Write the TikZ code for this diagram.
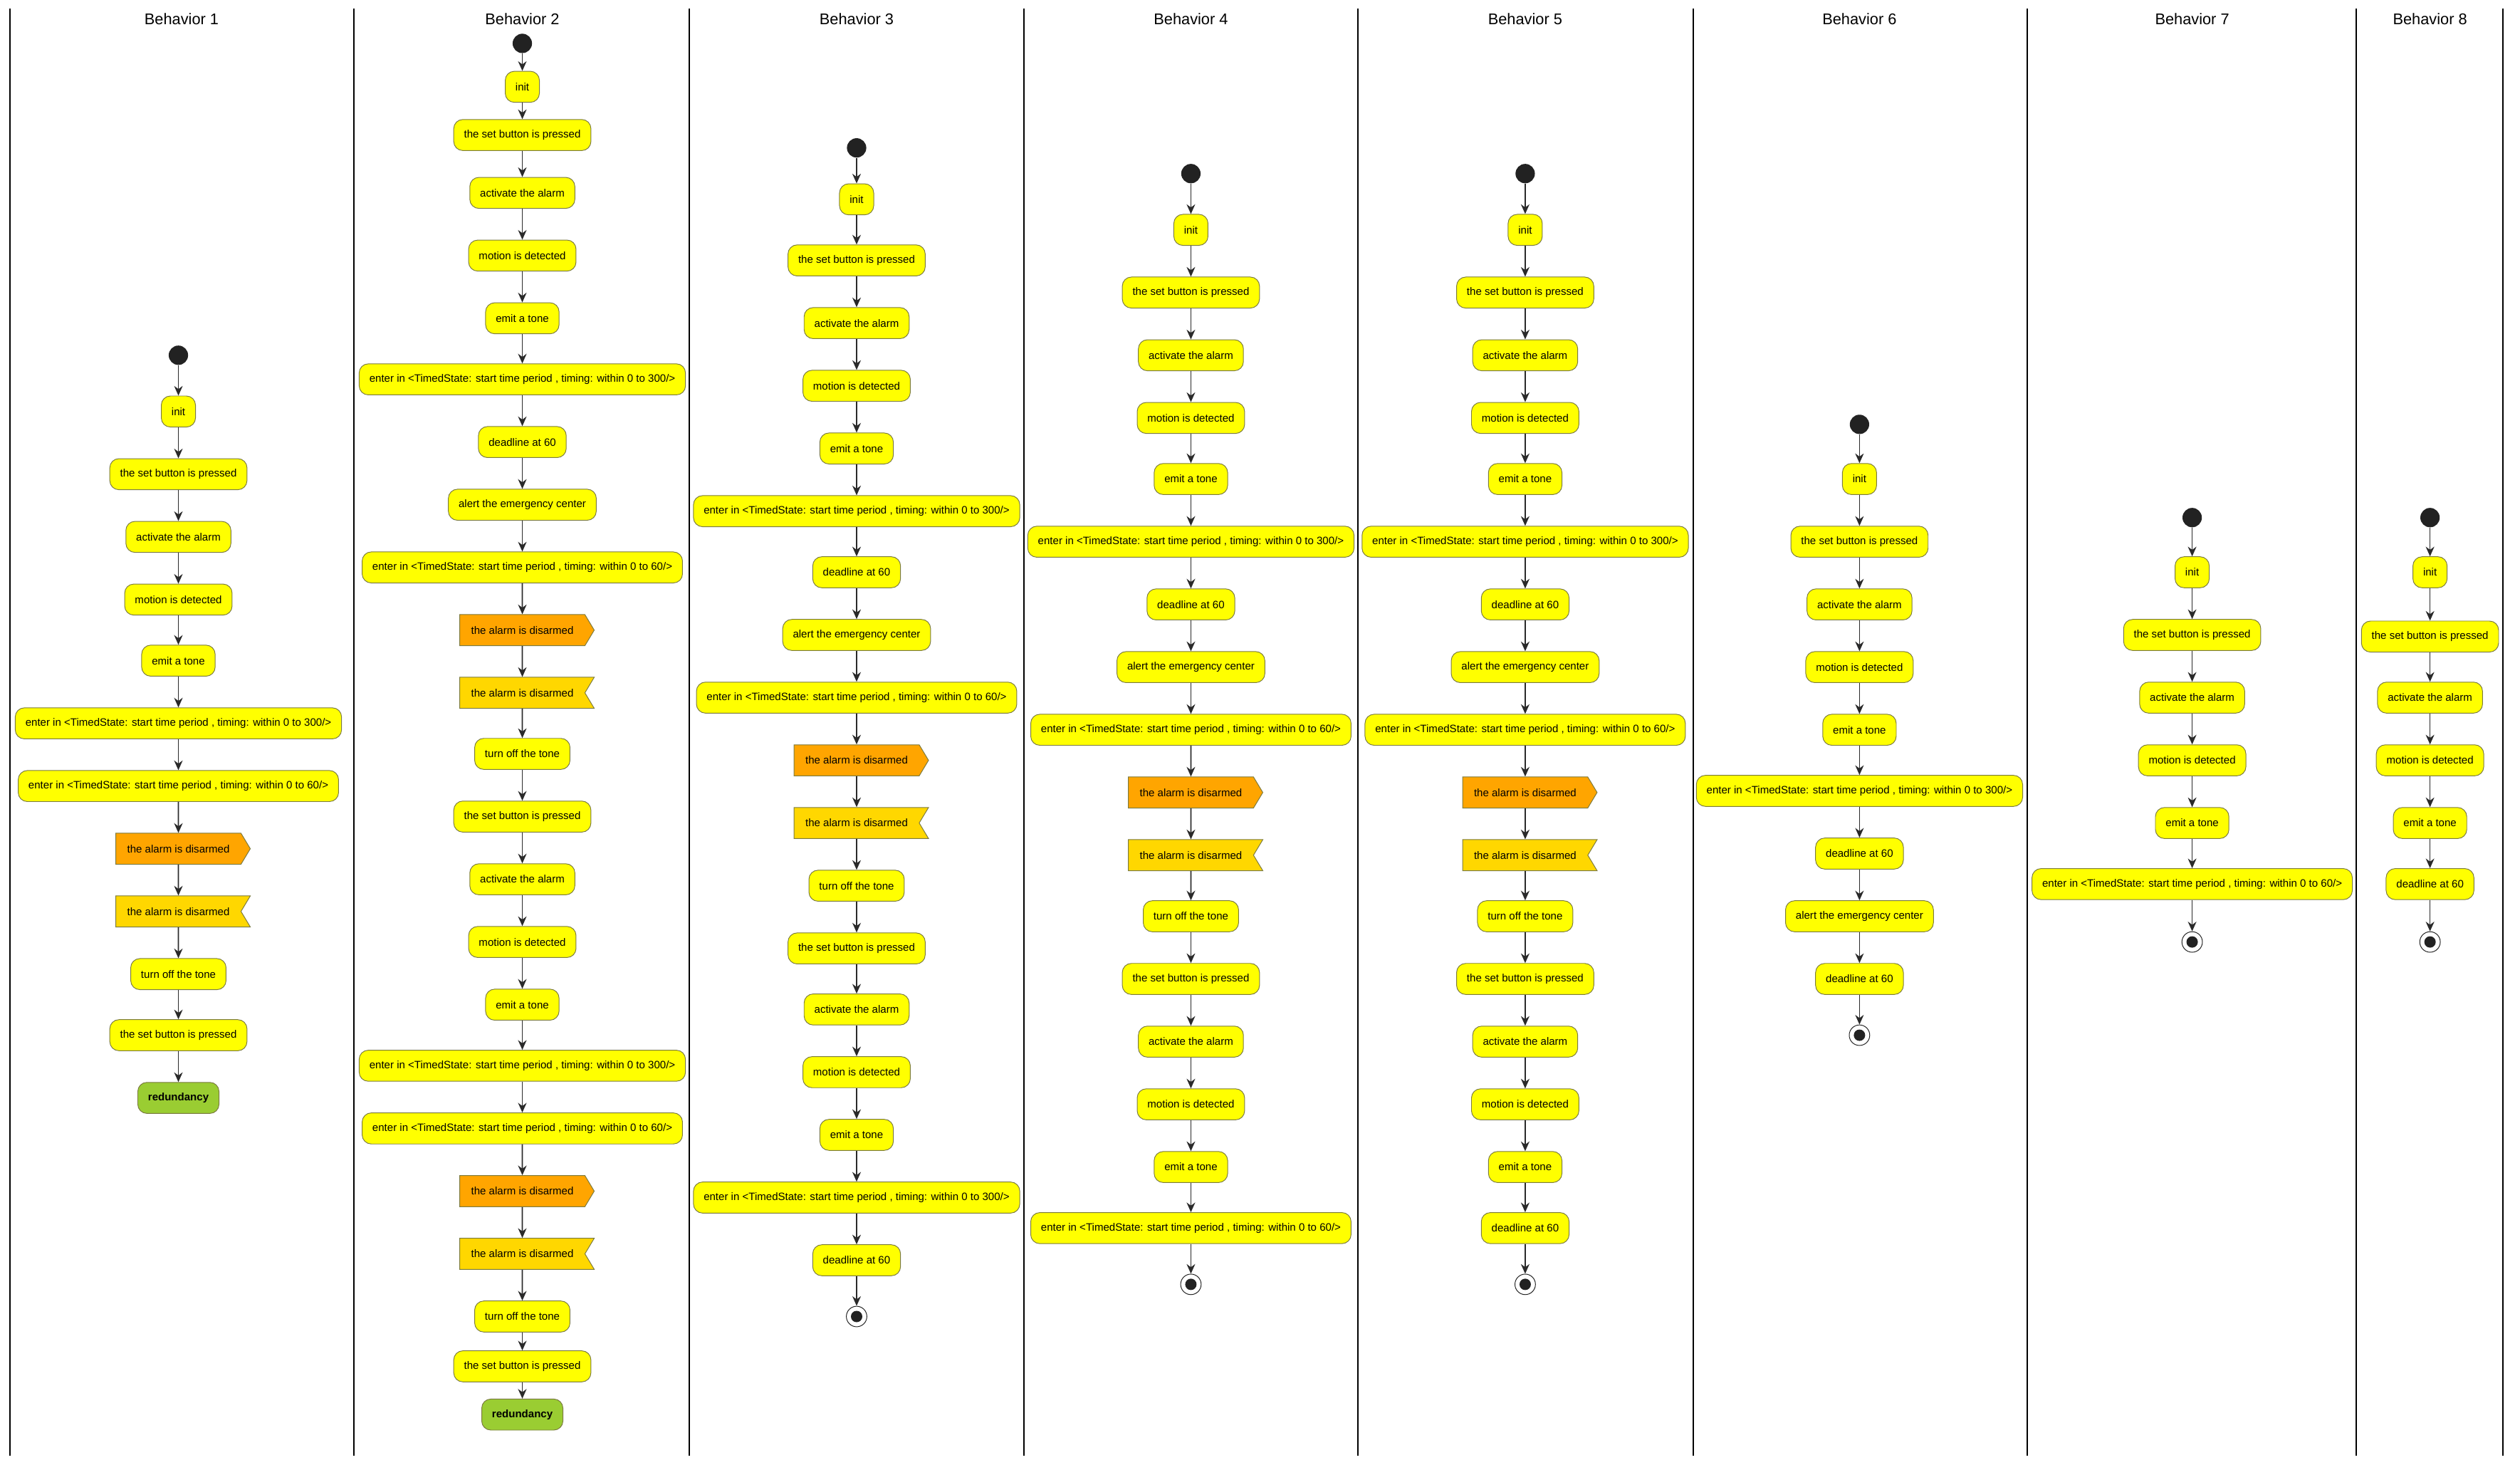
\documentclass[tikz,border=0pt]{standalone}
\usepackage{fontspec}
\setmainfont{Liberation Sans}
\usepackage{tikz}
\usetikzlibrary{arrows.meta, shapes.symbols}

\definecolor{actyellow}{HTML}{FFFF00}
\definecolor{actborder}{HTML}{7A7A40}
\definecolor{sendorange}{HTML}{FFA500}
\definecolor{recvgold}{HTML}{FFD700}
\definecolor{redgreen}{HTML}{9ACD32}
\definecolor{dotgray}{HTML}{222222}
\definecolor{flowgray}{HTML}{2A2A2A}

\tikzset{
  lanetitle/.style={
    font=\fontsize{15.5}{18}\selectfont, inner sep=0pt
  },
  lanerule/.style={
    line width=1.5pt, color=black
  },
  actbox/.style={
    draw=actborder, fill=actyellow, line width=0.7pt,
    rounded corners=0.32cm, minimum height=1.09cm,
    inner xsep=0.36cm, inner ysep=0pt,
    font=\fontsize{10.7}{12.8}\selectfont
  },
  sendbox/.style={
    signal, signal to=east, signal pointer angle=118,
    draw=actborder, fill=sendorange, line width=0.7pt,
    minimum height=1.09cm, inner xsep=0.4cm, inner ysep=0pt,
    font=\fontsize{10.7}{12.8}\selectfont
  },
  recvbox/.style={
    signal, signal to=nowhere, signal from=east, signal pointer angle=118,
    draw=actborder, fill=recvgold, line width=0.7pt,
    minimum height=1.09cm, inner xsep=0.4cm, inner ysep=0pt,
    font=\fontsize{10.7}{12.8}\selectfont
  },
  redbox/.style={
    actbox, fill=redgreen,
    font=\fontsize{10.7}{12.8}\selectfont\bfseries
  },
  startdot/.style={
    circle, fill=dotgray, minimum size=0.68cm, inner sep=0pt
  },
  enddot/.style={
    circle, draw=dotgray, fill=white, line width=0.7pt,
    minimum size=0.72cm, inner sep=0pt,
    path picture={\fill[dotgray] (path picture bounding box.center) circle (0.2cm);}
  },
  flowarrow/.style={
    -{Stealth[length=0.34cm, width=0.3cm, inset=0.11cm]},
    draw=flowgray, line width=1.2pt
  },
}

\newcommand\timedlong{enter in <TimedState: start time period , timing: within 0 to 300/>}
\newcommand\timedshort{enter in <TimedState: start time period , timing: within 0 to 60/>}

% one behaviour lane: #1 name, #2 x, #3 list of y/style/text
\newcommand\drawbehavior[3]{%
  \foreach \y/\kind/\txt [count=\i] in {#3}{
    \node[\kind] (#1-\i) at (#2,\y) {\txt};
    \ifnum\i>1
      \pgfmathtruncatemacro\prev{\i-1}
      \draw[flowarrow] (#1-\prev) -- (#1-\i);
    \fi
  }%
}

\begin{document}
\begin{tikzpicture}[x=0.05643cm, y=-0.05643cm]
  \useasboundingbox (0,0) rectangle (1568,908);

  % Lane separators
  \foreach \sx in {6.2,220.2,428.9,637.1,845,1053.6,1261.4,1466.1,1557.4}
    \draw[lanerule] (\sx,5.3) -- (\sx,905.6);

  % Titles
  \foreach \tx [count=\k] in {113,325,533,741,949,1157,1364,1512}
    \node[lanetitle] (title\k) at (\tx,12) {Behavior \k};

  % Behavior 1
  \drawbehavior{b1}{111}{221/startdot/{}, 256/actbox/init,
    295/actbox/the set button is pressed, 334/actbox/activate the alarm,
    373/actbox/motion is detected, 411/actbox/emit a tone,
    450/actbox/\timedlong, 489/actbox/\timedshort,
    528/sendbox/the alarm is disarmed, 567/recvbox/the alarm is disarmed,
    606/actbox/turn off the tone, 644/actbox/the set button is pressed,
    683/redbox/redundancy}

  % Behavior 2
  \drawbehavior{b2}{325}{27/startdot/{}, 54/actbox/init,
    84/actbox/the set button is pressed, 120/actbox/activate the alarm,
    159/actbox/motion is detected, 198/actbox/emit a tone,
    236/actbox/\timedlong, 275/actbox/deadline at 60,
    314/actbox/alert the emergency center, 353/actbox/\timedshort,
    392/sendbox/the alarm is disarmed, 431/recvbox/the alarm is disarmed,
    469/actbox/turn off the tone, 508/actbox/the set button is pressed,
    547/actbox/activate the alarm, 586/actbox/motion is detected,
    625/actbox/emit a tone, 663/actbox/\timedlong, 702/actbox/\timedshort,
    741/sendbox/the alarm is disarmed, 780/recvbox/the alarm is disarmed,
    819/actbox/turn off the tone, 850/actbox/the set button is pressed,
    880/redbox/redundancy}

  % Behavior 3
  \drawbehavior{b3}{533}{92/startdot/{}, 124/actbox/init,
    162/actbox/the set button is pressed, 201/actbox/activate the alarm,
    240/actbox/motion is detected, 279/actbox/emit a tone,
    318/actbox/\timedlong, 356/actbox/deadline at 60,
    395/actbox/alert the emergency center, 434/actbox/\timedshort,
    473/sendbox/the alarm is disarmed, 512/recvbox/the alarm is disarmed,
    551/actbox/turn off the tone, 590/actbox/the set button is pressed,
    628/actbox/activate the alarm, 667/actbox/motion is detected,
    706/actbox/emit a tone, 745/actbox/\timedlong,
    784/actbox/deadline at 60, 819/enddot/{}}

  % Behavior 4
  \drawbehavior{b4}{741}{108/startdot/{}, 143/actbox/init,
    182/actbox/the set button is pressed, 221/actbox/activate the alarm,
    260/actbox/motion is detected, 298/actbox/emit a tone,
    337/actbox/\timedlong, 376/actbox/deadline at 60,
    415/actbox/alert the emergency center, 454/actbox/\timedshort,
    493/sendbox/the alarm is disarmed, 532/recvbox/the alarm is disarmed,
    570/actbox/turn off the tone, 609/actbox/the set button is pressed,
    648/actbox/activate the alarm, 687/actbox/motion is detected,
    726/actbox/emit a tone, 764/actbox/\timedshort, 799/enddot/{}}

  % Behavior 5
  \drawbehavior{b5}{949}{108/startdot/{}, 143/actbox/init,
    182/actbox/the set button is pressed, 221/actbox/activate the alarm,
    260/actbox/motion is detected, 298/actbox/emit a tone,
    337/actbox/\timedlong, 376/actbox/deadline at 60,
    415/actbox/alert the emergency center, 454/actbox/\timedshort,
    493/sendbox/the alarm is disarmed, 532/recvbox/the alarm is disarmed,
    570/actbox/turn off the tone, 609/actbox/the set button is pressed,
    648/actbox/activate the alarm, 687/actbox/motion is detected,
    726/actbox/emit a tone, 764/actbox/deadline at 60, 799/enddot/{}}

  % Behavior 6
  \drawbehavior{b6}{1157}{264/startdot/{}, 298/actbox/init,
    337/actbox/the set button is pressed, 376/actbox/activate the alarm,
    415/actbox/motion is detected, 454/actbox/emit a tone,
    492/actbox/\timedlong, 531/actbox/deadline at 60,
    570/actbox/alert the emergency center, 609/actbox/deadline at 60,
    644/enddot/{}}

  % Behavior 7
  \drawbehavior{b7}{1364}{322/startdot/{}, 356/actbox/init,
    395/actbox/the set button is pressed, 434/actbox/activate the alarm,
    473/actbox/motion is detected, 512/actbox/emit a tone,
    550/actbox/\timedshort, 586/enddot/{}}

  % Behavior 8
  \drawbehavior{b8}{1512}{322/startdot/{}, 356/actbox/init,
    396/actbox/the set button is pressed, 434/actbox/activate the alarm,
    473/actbox/motion is detected, 512/actbox/emit a tone,
    550/actbox/deadline at 60, 586/enddot/{}}
\end{tikzpicture}
\end{document}
